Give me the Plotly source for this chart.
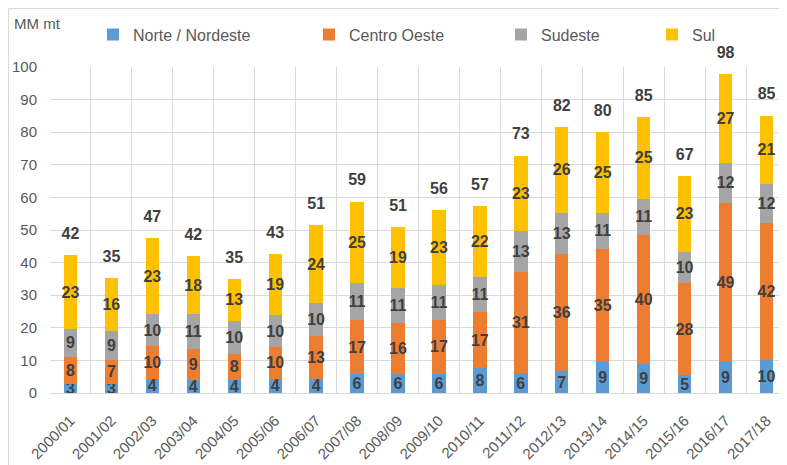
import plotly.graph_objects as go

seasons = ["2000/01", "2001/02", "2002/03", "2003/04", "2004/05", "2005/06",
           "2006/07", "2007/08", "2008/09", "2009/10", "2010/11", "2011/12",
           "2012/13", "2013/14", "2014/15", "2015/16", "2016/17", "2017/18"]
norte = [2.7, 2.8, 4.4, 4.1, 4.1, 4.4, 4.4, 5.7, 5.8, 5.9, 7.6, 6.0, 6.6, 9.4, 8.9, 5.4, 9.4, 10.2]
centro = [8.4, 7.3, 9.9, 9.4, 7.8, 9.8, 13.0, 16.7, 15.6, 16.6, 17.2, 31.0, 35.9, 34.9, 39.6, 28.2, 48.9, 41.8]
sudeste = [8.6, 9.0, 9.9, 10.6, 10.3, 9.6, 10.3, 11.4, 10.8, 10.7, 10.9, 12.8, 12.8, 10.8, 11.1, 9.7, 12.3, 12.0]
sul = [22.5, 16.2, 23.2, 17.9, 12.8, 18.8, 23.7, 24.9, 18.6, 22.9, 21.7, 23.0, 26.3, 25.0, 25.1, 23.3, 27.3, 21.1]
totals = [round(a + b + c + d, 1) for a, b, c, d in zip(norte, centro, sudeste, sul)]

series = [
    ("Norte / Nordeste", norte, "#5B9BD5", "legend"),
    ("Centro Oeste", centro, "#ED7D31", "legend2"),
    ("Sudeste", sudeste, "#A5A5A5", "legend3"),
    ("Sul", sul, "#FFC000", "legend4"),
]

FONT = "Arial, Liberation Sans, sans-serif"
LABEL = "#404040"
AXIS = "#595959"

fig = go.Figure()
for name, vals, color, lg in series:
    fig.add_trace(go.Bar(
        x=seasons, y=vals, name=name, marker=dict(color=color, line=dict(width=0)),
        text=vals, texttemplate="%{y:.0f}", textposition="inside",
        insidetextanchor="middle", textangle=0, constraintext="none",
        textfont=dict(family=FONT, size=16, color=LABEL, weight="bold"),
        legend=lg, cliponaxis=False,
    ))

fig.add_trace(go.Scatter(
    x=seasons, y=totals, mode="markers+text", text=totals, texttemplate="%{y:.0f}",
    marker=dict(size=18, opacity=0), hoverinfo="skip",
    textposition="top center", showlegend=False, cliponaxis=False,
    textfont=dict(family=FONT, size=16, color=LABEL, weight="bold"),
))

# The page body has an 8px margin, so figure coords = screen coords - 8.
def lg(px):
    return dict(orientation="h", x=(px - 50) / 737, xanchor="left", y=(393.5 - 18) / 326,
                yanchor="top", font=dict(family=FONT, size=16, color=AXIS),
                bgcolor="rgba(0,0,0,0)")

fig.update_layout(
    width=779, height=457,
    margin=dict(l=42, r=0, t=59, b=72, autoexpand=False),
    barmode="stack", bargap=0.675,
    plot_bgcolor="white", paper_bgcolor="white",
    font=dict(family=FONT, color=AXIS),
    uniformtext=dict(minsize=16, mode="show"),
    legend=lg(93), legend2=lg(309), legend3=lg(501), legend4=lg(652),
    xaxis=dict(type="category", tickson="boundaries", showgrid=True, gridcolor="#d9d9d9",
               gridwidth=1, tickangle=-45, tickfont=dict(family=FONT, size=15, color=AXIS),
               showline=True, linecolor="#d9d9d9", ticks="", range=[-0.5, 17.5],
               ticklabelstandoff=12, automargin=False),
    yaxis=dict(range=[0, 100], dtick=10, showgrid=True, gridcolor="#d9d9d9", gridwidth=1,
               tickfont=dict(family=FONT, size=15, color=AXIS), zeroline=False, ticks="",
               ticklabelstandoff=12, automargin=False),
    annotations=[dict(text="MM mt", xref="paper", yref="paper", x=(12 - 50) / 737,
                      y=(393.5 - 14) / 326, xanchor="left", yanchor="top", showarrow=False,
                      font=dict(family=FONT, size=15, color=AXIS))],
    shapes=[dict(type="rect", xref="paper", yref="paper", x0=(8.5 - 50) / 737, x1=1.02,
                 y0=-0.25, y1=(393.5 - 9) / 326, line=dict(color="#d9d9d9", width=1),
                 layer="below")],
)

fig.write_html("out.html")
